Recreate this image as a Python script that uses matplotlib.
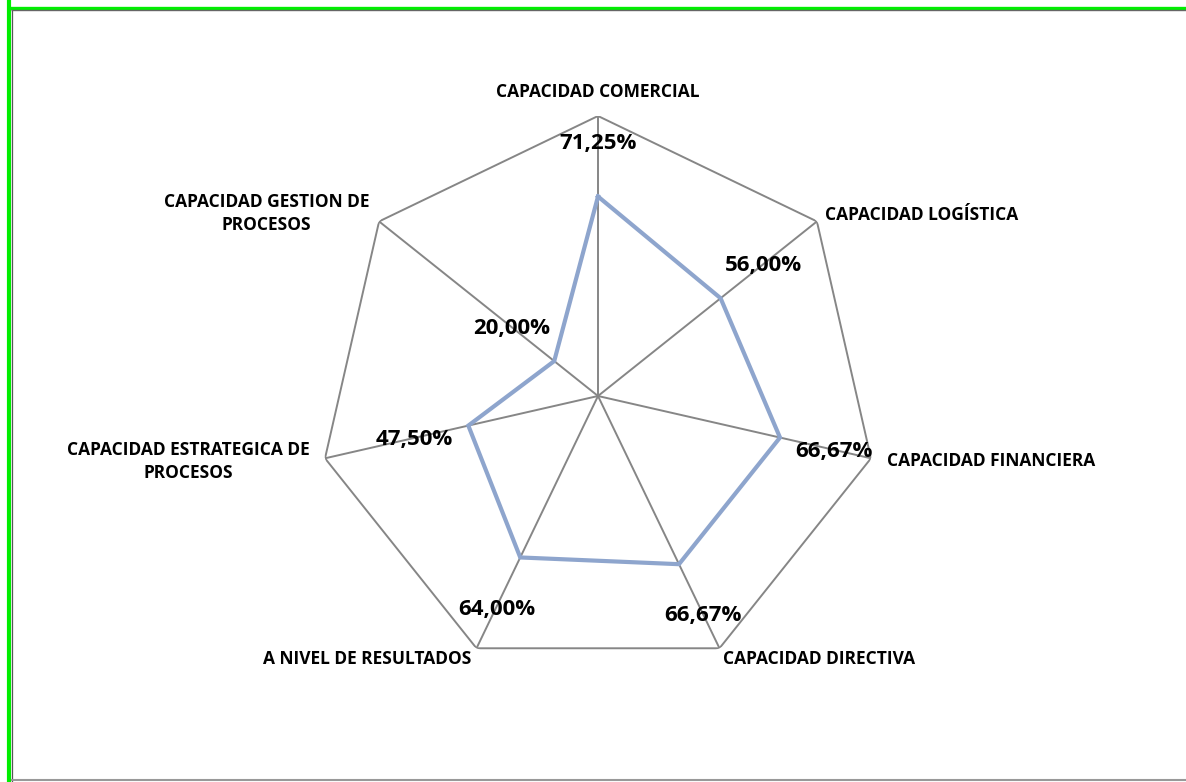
import numpy as np
import matplotlib
matplotlib.use("Agg")
import matplotlib.pyplot as plt
from matplotlib.lines import Line2D

categories = ["CAPACIDAD COMERCIAL", "CAPACIDAD LOGÍSTICA", "CAPACIDAD FINANCIERA",
              "CAPACIDAD DIRECTIVA", "A NIVEL DE RESULTADOS",
              "CAPACIDAD ESTRATEGICA DE\nPROCESOS", "CAPACIDAD GESTION DE\nPROCESOS"]
values = [71.25, 56.00, 66.67, 66.67, 64.00, 47.50, 20.00]
value_labels = ["71,25%", "56,00%", "66,67%", "66,67%", "64,00%", "47,50%", "20,00%"]

plt.rcParams['font.family'] = ['Open Sans', 'DejaVu Sans']

W, H = 1186, 782
fig = plt.figure(figsize=(W / 100, H / 100), dpi=100)
fig.patch.set_facecolor('white')

cx, cy, R = 598, 396, 280
ax = fig.add_axes([(cx - R) / W, (H - cy - R) / H, 2 * R / W, 2 * R / H], projection='polar')
ax.set_theta_zero_location('N')
ax.set_theta_direction(-1)
ax.set_ylim(0, 100)
ax.grid(False)
ax.spines['polar'].set_visible(False)
ax.set_xticks([])
ax.set_yticks([])
ax.patch.set_alpha(0)

n = len(categories)
angles = np.arange(n) * 2 * np.pi / n
grid_col = '#868686'

# outer polygon
ax.plot(np.append(angles, angles[0]), [100] * (n + 1), color=grid_col, lw=1.4, zorder=1)
# radial axes
for a in angles:
    ax.plot([a, a], [0, 100], color=grid_col, lw=1.4, zorder=1)

# data line
ax.plot(np.append(angles, angles[0]), values + [values[0]], color='#8EA5CD', lw=3.0,
        solid_joinstyle='miter', zorder=3)

# data labels (55 px outward along each axis, nudged 2 px down)
off = 55 * 0.72
for a, v, lab in zip(angles, values, value_labels):
    ax.annotate(lab, xy=(a, v), xytext=(off * np.sin(a), off * np.cos(a) - 2 * 0.72),
                textcoords='offset points', ha='center', va='center',
                fontsize=16, fontweight='bold', color='black', zorder=4,
                annotation_clip=False)

# category labels (offsets in pixels, y down)
cat_off = [(0, -24, 'center'), (8, -6, 'left'), (16, 3, 'left'), (4, 11, 'left'),
           (-5, 11, 'right'), (-15, 3, 'right'), (-10, -8, 'right')]
for a, lab, (dx, dy, ha) in zip(angles, categories, cat_off):
    ax.annotate(lab, xy=(a, 100), xytext=(dx * 0.72, -dy * 0.72),
                textcoords='offset points', ha=ha, va='center', multialignment='center',
                fontsize=12.5, fontweight='bold', color='black', linespacing=1.4,
                annotation_clip=False)

# frame
def px_line(x0, y0, x1, y1, color, lw):
    fig.add_artist(Line2D([x0 / W, x1 / W], [1 - y0 / H, 1 - y1 / H], color=color,
                          lw=lw, transform=fig.transFigure, solid_capstyle='butt'))

px_line(9, 0, 9, H, '#00EE00', 3.0)
px_line(7, 7.5, W, 7.5, '#00EE00', 2.4)
px_line(11.5, 10, 11.5, H, '#555555', 0.9)
px_line(11, 10, W, 10, '#666666', 1.0)
px_line(11, 780, W, 780, '#999999', 1.5)

fig.savefig('out.png', dpi=100, facecolor='white')
